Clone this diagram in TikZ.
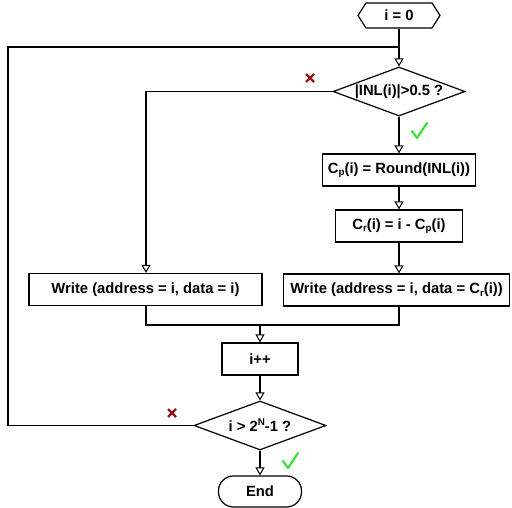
\documentclass[tikz,border=0pt]{standalone}
\usepackage{fontspec}
\setmainfont{Liberation Sans}
\usetikzlibrary{shapes.geometric,shapes.symbols,arrows.meta}
\newcommand{\mysub}[1]{\raisebox{-0.3ex}{\fontsize{9.8}{10}\selectfont #1}}
\newcommand{\mysup}[1]{\raisebox{0.75ex}{\fontsize{9.8}{10}\selectfont #1}}
\definecolor{xred}{RGB}{150,20,25}
\definecolor{okgreen}{RGB}{60,225,60}
\begin{document}
\begin{tikzpicture}[x=1pt,y=-1pt,
  txt/.style={font=\bfseries\fontsize{14.8}{16}\selectfont},
  box/.style={txt, draw, line width=1.2pt, rectangle, inner sep=0pt, minimum height=32pt},
  dec/.style={txt, draw, line width=1.2pt, diamond, aspect=2.7, inner sep=0pt, minimum width=132pt, minimum height=49pt},
  startnode/.style={txt, draw, line width=1.2pt, signal, signal to=west and east, signal pointer angle=115, inner sep=0pt, minimum width=82pt, minimum height=25pt},
  endnode/.style={txt, draw, line width=1.2pt, rectangle, rounded corners=15pt, inner sep=0pt, minimum width=83pt, minimum height=31pt},
  link/.style={line width=1.2pt},
  flow/.style={line width=1.2pt, -{Triangle[open,length=8pt,width=9pt,line width=1pt]}},
  nomark/.style={xred, line width=2.2pt},
  yesmark/.style={okgreen, line width=2.2pt, line join=round, line cap=round}]
\useasboundingbox (0,0) rectangle (512,508);

\node[startnode] (start) at (399,15.5) {i = 0};
\node[dec] (d1) at (399,91.5) {|INL(i)|>0.5 ?};
\node[box, minimum width=153pt] (cp) at (399,170) {C\mysub{p}(i) = Round(INL(i))};
\node[box, minimum width=127pt] (cr) at (399,226) {C\mysub{r}(i) = i - C\mysub{p}(i)};
\node[box, minimum width=226pt] (wr) at (396.5,290) {Write (address = i, data = C\mysub{r}(i))};
\node[box, minimum width=233pt] (wl) at (145.5,289.5) {Write (address = i, data = i)};
\node[box, minimum width=76pt] (inc) at (260,359) {i++};
\node[dec] (d2) at (260,425.5) {i > 2\mysup{N}-1 ?};
\node[endnode] (end) at (260,491.5) {End};

\coordinate (loopR) at (399,47);
\coordinate (loopL) at (8,47);
\coordinate (loopB) at (8,425.5);
\coordinate (brL) at (146,91.5);
\coordinate (mL) at (146,325);
\coordinate (mR) at (399,325);
\coordinate (mC) at (260,325);

\draw[link] (start.south) -- (loopR);
\draw[flow] (loopR) -- (d1.north);
\draw[link] (d2.west) -- (loopB) -- (loopL) -- (loopR);
\draw[flow] (d1.west) -- (brL) -- (wl.north -| brL);
\draw[flow] (d1.south) -- (cp.north);
\draw[flow] (cp.south) -- (cr.north);
\draw[flow] (cr.south) -- (cr.south |- wr.north);
\draw[link] (wl.south -| mL) -- (mL) -- (mR) -- (wr.south -| mR);
\draw[flow] (mC) -- (inc.north);
\draw[flow] (inc.south) -- (d2.north);
\draw[flow] (d2.south) -- (end.north);

\draw[nomark] (306,74) -- (314,82) (314,74) -- (306,82);
\draw[nomark] (168,409) -- (176,417) (176,409) -- (168,417);
\draw[yesmark] (412,131) -- (417,138) -- (427,123);
\draw[yesmark] (283,461) -- (288,468) -- (298,453);
\end{tikzpicture}
\end{document}
